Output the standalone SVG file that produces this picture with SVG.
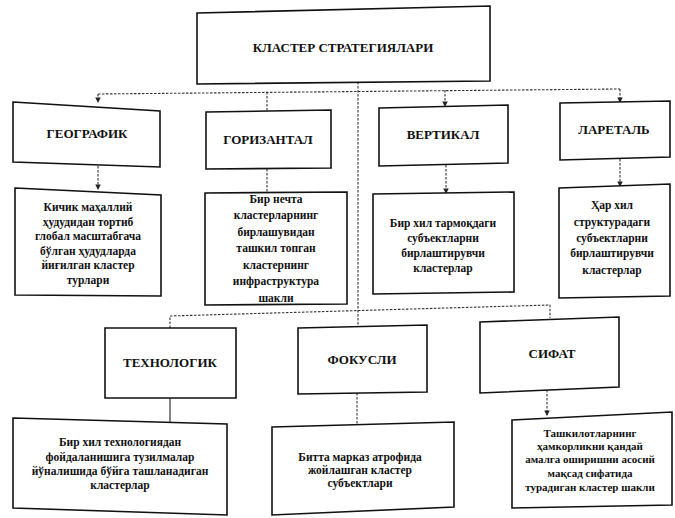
<svg xmlns="http://www.w3.org/2000/svg" width="675" height="518" viewBox="0 0 675 518">
<style>
.box{fill:#fff;stroke:#111;stroke-width:1.6}
.h{font-family:"Liberation Serif","DejaVu Serif",serif;font-weight:bold;font-size:13px;fill:#111;text-anchor:middle}
.d{font-family:"Liberation Serif","DejaVu Serif",serif;font-weight:bold;font-size:11.5px;fill:#111;text-anchor:middle}
.c{fill:none;stroke:#333;stroke-width:1.1;stroke-dasharray:2.5 1.5}
.s{fill:none;stroke:#222;stroke-width:1.1}
</style>
<defs>
<marker id="a" viewBox="0 0 6 6" refX="5" refY="3" markerWidth="5" markerHeight="5" orient="auto">
<path d="M0,0 L6,3 L0,6 z" fill="#222"/>
</marker>
</defs>
<g id="connectors">
<line class="c" x1="358" y1="82" x2="358" y2="327"/>
<line class="c" x1="98" y1="94" x2="620" y2="89"/>
<line class="c" x1="98" y1="94" x2="98" y2="102" marker-end="url(#a)"/>
<line class="c" x1="267" y1="92" x2="267" y2="111"/>
<line class="c" x1="445" y1="90" x2="445" y2="106" marker-end="url(#a)"/>
<line class="c" x1="620" y1="89" x2="620" y2="102" marker-end="url(#a)"/>
<line class="c" x1="98" y1="166" x2="98" y2="189" marker-end="url(#a)"/>
<line class="c" x1="267" y1="169" x2="267" y2="193"/>
<line class="c" x1="446" y1="165" x2="446" y2="193" marker-end="url(#a)"/>
<line class="c" x1="620" y1="159" x2="620" y2="186" marker-end="url(#a)"/>
<polyline class="c" points="170,328 170,316 550,305 550,318"/>
<line class="s" x1="170" y1="398" x2="170" y2="422"/>
<line class="c" x1="357" y1="393" x2="357" y2="424"/>
<line class="c" x1="547" y1="390" x2="547" y2="415" marker-end="url(#a)"/>
</g>
<g id="title">
<polygon class="box" points="197,13 490,6 490,81 197,84"/>
<text class="h" x="343" y="52">КЛАСТЕР СТРАТЕГИЯЛАРИ</text>
</g>
<g id="geo">
<polygon class="box" points="13,102 160,111 160,167 13,162"/>
<text class="h" x="87" y="138">ГЕОГРАФИК</text>
</g>
<g id="gor">
<polygon class="box" points="206,112 331,110 331,168 206,169"/>
<text class="h" x="268" y="144">ГОРИЗАНТАЛ</text>
</g>
<g id="vert">
<polygon class="box" points="379,108 508,105 508,163 379,166"/>
<text class="h" x="443" y="139">ВЕРТИКАЛ</text>
</g>
<g id="lat">
<polygon class="box" points="560,103 670,101 670,157 560,160"/>
<text class="h" x="614" y="134">ЛАРЕТАЛЬ</text>
</g>
<g id="geo-d">
<polygon class="box" points="15,188 161,195 161,296 15,295"/>
<text class="d" x="88"><tspan x="88" y="211">Кичик маҳаллий</tspan><tspan x="88" y="226">ҳудудидан тортиб</tspan><tspan x="88" y="240">глобал масштабгача</tspan><tspan x="88" y="255">бўлган ҳудудларда</tspan><tspan x="88" y="269">йиғилган кластер</tspan><tspan x="88" y="284">турлари</tspan></text>
</g>
<g id="gor-d">
<polygon class="box" points="205,193 347,192 347,304 205,305"/>
<text class="d" x="276"><tspan x="276" y="203">Бир нечта</tspan><tspan x="276" y="219">кластерларнинг</tspan><tspan x="276" y="236">бирлашувидан</tspan><tspan x="276" y="252">ташкил топган</tspan><tspan x="276" y="269">кластернинг</tspan><tspan x="276" y="285">инфраструктура</tspan><tspan x="276" y="302">шакли</tspan></text>
</g>
<g id="vert-d">
<polygon class="box" points="373,194 514,192 514,292 373,294"/>
<text class="d" x="443"><tspan x="443" y="227">Бир хил тармоқдаги</tspan><tspan x="443" y="242">субъектларни</tspan><tspan x="443" y="257">бирлаштирувчи</tspan><tspan x="443" y="272">кластерлар</tspan></text>
</g>
<g id="lat-d">
<polygon class="box" points="559,188 670,184 670,296 559,298"/>
<text class="d" x="612"><tspan x="612" y="209">Ҳар хил</tspan><tspan x="612" y="226">структурадаги</tspan><tspan x="612" y="242">субъектларни</tspan><tspan x="612" y="257">бирлаштирувчи</tspan><tspan x="612" y="274">кластерлар</tspan></text>
</g>
<g id="tex">
<polygon class="box" points="105,328 236,328 236,398 105,398"/>
<text class="h" x="170" y="367">ТЕХНОЛОГИК</text>
</g>
<g id="fok">
<polygon class="box" points="298,328 427,325 427,392 298,394"/>
<text class="h" x="362" y="364">ФОКУСЛИ</text>
</g>
<g id="sif">
<polygon class="box" points="480,322 619,317 619,387 480,393"/>
<text class="h" x="552" y="358">СИФАТ</text>
</g>
<g id="tex-d">
<polygon class="box" points="13,418 227,424 227,515 13,508"/>
<text class="d" x="120"><tspan x="120" y="446">Бир хил технологиядан</tspan><tspan x="120" y="461">фойдаланишига тузилмалар</tspan><tspan x="120" y="475">йўналишида бўйга ташланадиган</tspan><tspan x="120" y="489">кластерлар</tspan></text>
</g>
<g id="fok-d">
<polygon class="box" points="272,427 454,422 454,507 272,515"/>
<text class="d" x="360"><tspan x="360" y="461">Битта марказ атрофида</tspan><tspan x="360" y="474">жойлашган кластер</tspan><tspan x="360" y="487">субъектлари</tspan></text>
</g>
<g id="sif-d">
<polygon class="box" points="512,420 672,412 672,505 512,508"/>
<text class="d" x="590" style="font-size:11px"><tspan x="590" y="437">Ташкилотларнинг</tspan><tspan x="590" y="450">ҳамкорликни қандай</tspan><tspan x="590" y="463">амалга оширишни асосий</tspan><tspan x="590" y="477">мақсад сифатида</tspan><tspan x="590" y="491">турадиган кластер шакли</tspan></text>
</g>
</svg>
